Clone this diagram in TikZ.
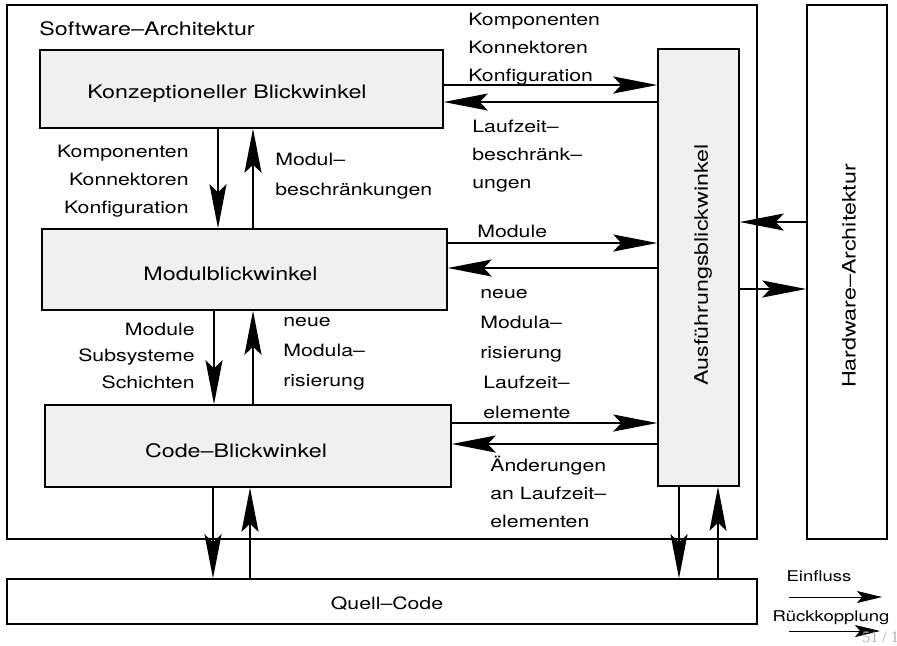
\documentclass[tikz,border=0pt]{standalone}
\usepackage{fontspec}
\setmainfont{TeX Gyre Heros}[FakeStretch=1.25]
\newfontfamily\pagefont{Liberation Serif}
\usetikzlibrary{arrows.meta,positioning,calc}

\begin{document}
\begin{tikzpicture}[x=0.5pt,y=-0.5pt,font=\fontsize{9.3}{14}\selectfont,
  box/.style={draw,line width=0.75pt,inner sep=0pt},
  view/.style={box,fill=gray!12},
  lbl/.style={inner sep=0pt,align=left,font=\fontsize{8.5}{14}\selectfont},
  wide/.style={font=\fontsize{8.5}{15}\selectfont},
  arr/.style={line width=1pt,-{Stealth[length=22pt,width=8.5pt,inset=4pt]}},
  small/.style={line width=0.5pt,-{Stealth[length=12.5pt,width=6pt,inset=2.5pt]}}]
\useasboundingbox (0,0) rectangle (897,645);
% boxes
\node[box,minimum width=375pt,minimum height=267pt] (sw) at (382,272) {};
\node[box,minimum width=40pt,minimum height=267pt] (hw) at (847,272) {};
\node[box,minimum width=375pt,minimum height=22.5pt] (qc) at (382,601.5) {};
\node[view,minimum width=201.5pt,minimum height=39pt] (konz) at (241.5,89) {};
\node[view,minimum width=202.5pt,minimum height=40.5pt] (modul) at (244.5,269.5) {};
\node[view,minimum width=203pt,minimum height=41pt] (code) at (248,446) {};
\node[view,minimum width=40.5pt,minimum height=218.5pt] (ausf) at (698.5,267.5) {};
% box texts
\node[inner sep=0pt,anchor=base west] (swt) at (39,35) {Software–Architektur};
\node[inner sep=0pt,anchor=base] (konzt) at (227,98) {Konzeptioneller Blickwinkel};
\node[inner sep=0pt,anchor=base] (modult) at (230.5,280) {Modulblickwinkel};
\node[inner sep=0pt,anchor=base] (codet) at (236,457) {Code–Blickwinkel};
\node[inner sep=0pt,anchor=base,font=\fontsize{8.5}{10}\selectfont] (qct) at (387,609) {Quell–Code};
\node[inner sep=0pt,rotate=90] (ausft) at (703,265) {Ausführungsblickwinkel};
\node[inner sep=0pt,rotate=90] (hwt) at (849,276) {Hardware–Architektur};
% vertical arrows
\draw[arr] ([xshift=-11.75pt]konz.south) -- ([xshift=-11.75pt]konz.south |- modul.north);
\draw[arr] ([xshift=5.75pt]konz.south |- modul.north) -- ([xshift=5.75pt]konz.south);
\draw[arr] ([xshift=-15.25pt]modul.south) -- ([xshift=-15.25pt]modul.south |- code.north);
\draw[arr] ([xshift=4.25pt]modul.south |- code.north) -- ([xshift=4.25pt]modul.south);
\draw[arr] ([xshift=-17.5pt]code.south) -- ([xshift=-17.5pt]code.south |- qc.north);
\draw[arr] ([xshift=1pt]code.south |- qc.north) -- ([xshift=1pt]code.south);
\draw[arr] ([xshift=-9.75pt]ausf.south) -- ([xshift=-9.75pt]ausf.south |- qc.north);
\draw[arr] ([xshift=9.75pt]ausf.south |- qc.north) -- ([xshift=9.75pt]ausf.south);
% horizontal arrows
\draw[arr] ([yshift=2pt]konz.east) -- ([yshift=2pt]konz.east -| ausf.west);
\draw[arr] ([yshift=-6.5pt]konz.east -| ausf.west) -- ([yshift=-6.5pt]konz.east);
\draw[arr] ([yshift=13.25pt]modul.east) -- ([yshift=13.25pt]modul.east -| ausf.west);
\draw[arr] ([yshift=0.75pt]modul.east -| ausf.west) -- ([yshift=0.75pt]modul.east);
\draw[arr] ([yshift=11.5pt]code.east) -- ([yshift=11.5pt]code.east -| ausf.west);
\draw[arr] ([yshift=1pt]code.east -| ausf.west) -- ([yshift=1pt]code.east);
\draw[arr] ([yshift=22.75pt]ausf.east -| hw.west) -- ([yshift=22.75pt]ausf.east);
\draw[arr] ([yshift=-10.75pt]ausf.east) -- ([yshift=-10.75pt]ausf.east -| hw.west);
% labels (anchored at the baseline of their last line)
\node[lbl,anchor=base west] (l1) at (468,81) {Komponenten\\Konnektoren\\Konfiguration};
\node[lbl,anchor=base west] (l2) at (472,188) {Laufzeit–\\beschränk–\\ungen};
\node[lbl,align=right,anchor=base east] (l3) at (189,213) {Komponenten\\Konnektoren\\Konfiguration};
\node[lbl,wide,anchor=base west] (l4) at (275,195) {Modul–\\beschränkungen};
\node[lbl,anchor=base west] (l5) at (477,237) {Module};
\node[lbl,wide,anchor=base west] (l6) at (480,358) {neue\\Modula–\\risierung};
\node[lbl,wide,anchor=base west] (l7) at (483,418) {Laufzeit–\\elemente};
\node[lbl,align=right,anchor=base east,font=\fontsize{8.5}{13.25}\selectfont] (l8) at (195,388) {Module\\Subsysteme\hspace{3pt}\\Schichten};
\node[lbl,wide,anchor=base west] (l9) at (283,386) {neue\\Modula–\\risierung};
\node[lbl,anchor=base west] (l10) at (490,527) {Änderungen\\an Laufzeit–\\elementen};
% legend
\node[lbl,anchor=base,font=\fontsize{7.4}{9}\selectfont] (einfl) at (819,581) {Einfluss};
\coordinate (e1) at (789,597);
\coordinate (e2) at (882,597);
\draw[small] (e1) -- (e2);
\node[lbl,anchor=base,font=\fontsize{7.4}{9}\selectfont] (rueck) at (831,621) {Rückkopplung};
\coordinate (r1) at (789,631);
\coordinate (r2) at (880,631);
\draw[small] (r1) -- (r2);
\node[lbl,anchor=base west,text=gray!60,font=\fontsize{8}{9}\pagefont] (pg) at (862,642) {51 / 1};
\end{tikzpicture}
\end{document}
